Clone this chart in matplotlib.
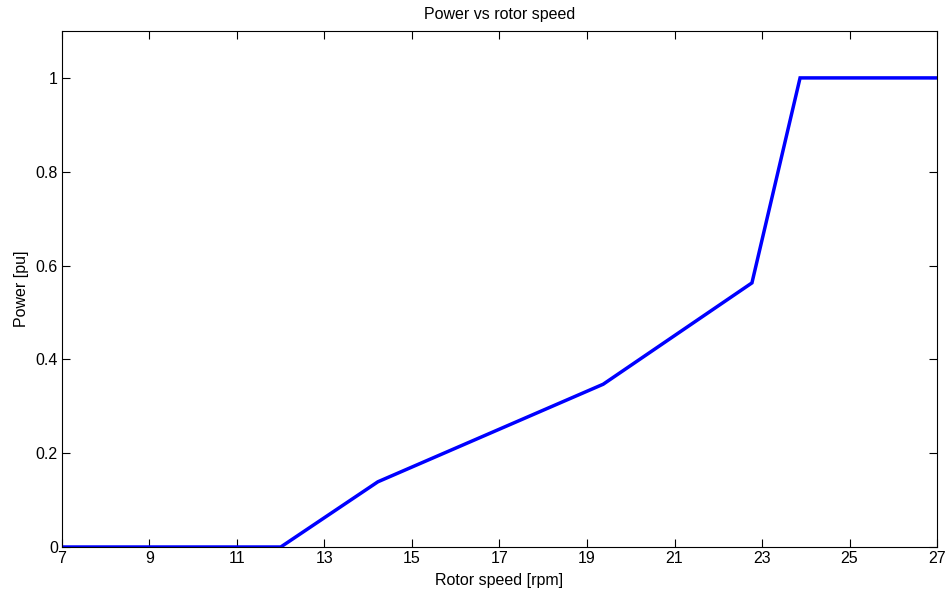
import matplotlib
matplotlib.use("Agg")
import matplotlib.pyplot as plt

# Data
rotor_speed = [7, 12.0, 14.22, 19.37, 22.77, 23.87, 27]
power = [0, 0, 0.139, 0.347, 0.563, 1.0, 1.0]
xticks = [7, 9, 11, 13, 15, 17, 19, 21, 23, 25, 27]
yticks = [0, 0.2, 0.4, 0.6, 0.8, 1]

plt.rcParams['font.family'] = ['Liberation Sans', 'DejaVu Sans']
plt.rcParams['font.size'] = 11.5

fig = plt.figure(figsize=(9.48, 5.93), dpi=100)
ax = fig.add_axes([62 / 948, 1 - 547 / 593, 875 / 948, 516 / 593])

ax.plot(rotor_speed, power, color='#0000ff', linewidth=2.5, solid_joinstyle='miter')
ax.set_xlim(7, 27)
ax.set_ylim(0, 1.1)
ax.set_xticks(xticks)
ax.set_xticklabels([str(t) for t in xticks])
ax.set_yticks(yticks)
ax.set_yticklabels(['0', '0.2', '0.4', '0.6', '0.8', '1'])
ax.tick_params(direction='in', top=True, right=True, length=6, width=0.8, pad=3)
for s in ax.spines.values():
    s.set_linewidth(0.8)

ax.set_xlabel('Rotor speed [rpm]', labelpad=5)
ax.set_ylabel('Power [pu]', labelpad=5)
ax.set_title('Power vs rotor speed', fontsize=11.5, pad=9)

fig.savefig('out.png', dpi=100)
